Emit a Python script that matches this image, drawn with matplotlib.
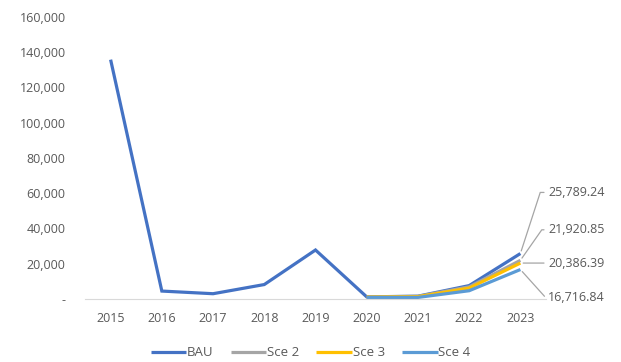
import matplotlib.pyplot as plt
from matplotlib.ticker import FuncFormatter

years = ["2015", "2016", "2017", "2018", "2019", "2020", "2021", "2022", "2023"]
bau = [135800, 4500, 3000, 8200, 27800, 1200, 1600, 7600, 25789.24]
sce2 = [None, None, None, None, None, 1200, 1500, 6900, 21920.85]
sce3 = [None, None, None, None, None, 1100, 1300, 6200, 20386.39]
sce4 = [None, None, None, None, None, 900, 900, 4700, 16716.84]

series = [("BAU", bau, "#4472C4"), ("Sce 2", sce2, "#A5A5A5"),
          ("Sce 3", sce3, "#FFC000"), ("Sce 4", sce4, "#5B9BD5")]

# label offsets (points) for the end values, and leader angle at the point
label_pos = [(20, 44, 72), (20, 22, 55), (20, 0, None), (20, -20, -48)]

plt.rcParams['font.family'] = ['Open Sans', 'DejaVu Sans']
fig = plt.figure(figsize=(6.21, 3.62), dpi=100)
ax = fig.add_axes([85 / 621, 1 - 299 / 362, 461 / 621, 282 / 362])

x = list(range(len(years)))
for name, vals, col in series:
    xs = [i for i, v in zip(x, vals) if v is not None]
    ys = [v for v in vals if v is not None]
    ax.plot(xs, ys, color=col, lw=2.3, label=name, solid_capstyle='butt', solid_joinstyle='miter')

for (name, vals, col), (dx, dy, ang) in zip(series, label_pos):
    v = vals[-1]
    if ang is None:
        cs = "arc3"
    else:
        cs = "angle,angleA=0,angleB=%d,rad=0" % ang
    ax.annotate(f"{v:,.2f}", xy=(x[-1], v), xytext=(dx, dy), textcoords='offset points',
                va='center', ha='left', fontsize=9, color='#595959', annotation_clip=False,
                arrowprops=dict(arrowstyle='-', color='#A5A5A5', lw=0.9, shrinkA=1, shrinkB=2,
                                connectionstyle=cs))

ax.set_xlim(-0.5, len(years) - 0.5)
ax.set_ylim(0, 160000)
ax.set_yticks(range(0, 160001, 20000))
ax.yaxis.set_major_formatter(FuncFormatter(lambda v, p: "-" if v == 0 else f"{int(v):,}"))
ax.set_xticks(x)
ax.set_xticklabels(years)
for s in ["top", "right", "left"]:
    ax.spines[s].set_visible(False)
ax.spines["bottom"].set_color("#D9D9D9")
ax.tick_params(axis='both', length=0, labelsize=9, labelcolor='#595959')
ax.tick_params(axis='x', pad=9)
ax.tick_params(axis='y', pad=14)

fig.legend(loc='lower center', bbox_to_anchor=(0.5, -0.025), ncol=4, frameon=False,
           fontsize=9.5, labelcolor='#595959', handlelength=2.7, handletextpad=0.05,
           columnspacing=1.3)

fig.savefig("out.png", dpi=100)
